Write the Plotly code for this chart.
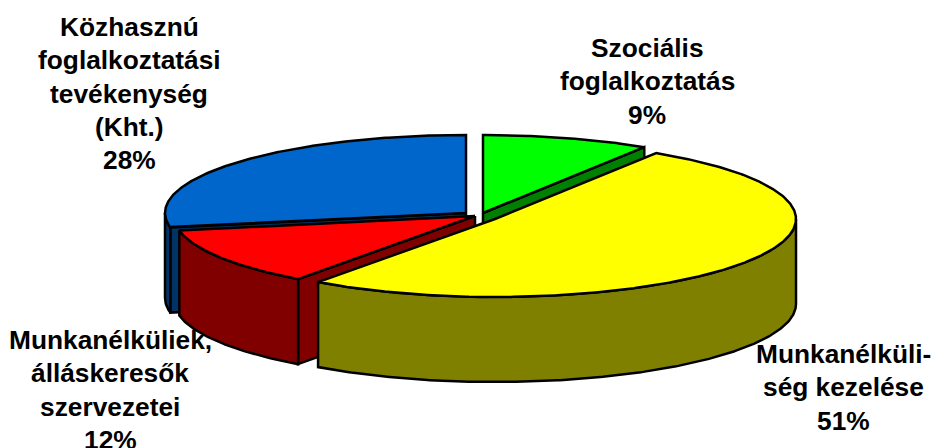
import numpy as np
import plotly.graph_objects as go

# Data
categories = ["Szociális foglalkoztatás", "Munkanélküliség kezelése",
              "Munkanélküliek, álláskeresők szervezetei",
              "Közhasznú foglalkoztatási tevékenység (Kht.)"]
values = [9, 51, 12, 28]
label_lines = [
    ["Szociális", "foglalkoztatás", "9%"],
    ["Munkanélküli-", "ség kezelése", "51%"],
    ["Munkanélküliek,", "álláskeresők", "szervezetei", "12%"],
    ["Közhasznú", "foglalkoztatási", "tevékenység", "(Kht.)", "28%"],
]

# Styling / projection of the tilted pie
top_colors = ["#00FF00", "#FFFF00", "#FF0000", "#0066CC"]
side_colors = ["#008000", "#808000", "#800000", "#003366"]
centers = [(483, 213), (495, 219), (475, 216), (466, 213)]
RX, RY, DEPTH = 301, 78, 85
label_pos = [(647, 48), (843, 354), (110, 340), (129, 27)]
LINE_H = 33.3


def rim(c, a0, a1, dy=0.0):
    t = np.radians(np.linspace(a0, a1, max(2, int(abs(a1 - a0) * 2) + 1)))
    return c[0] + RX * np.sin(t), c[1] - RY * np.cos(t) + dy


def poly(fig, xs, ys, color):
    fig.add_trace(go.Scatter(
        x=list(xs) + [xs[0]], y=list(ys) + [ys[0]], mode="lines", fill="toself",
        fillcolor=color, line=dict(color="black", width=2.5),
        hoverinfo="skip", showlegend=False))


fig = go.Figure()
edges = np.concatenate([[0], np.cumsum(values)]) * 3.6
# which straight edge of each wedge faces the viewer
front_cut = {0: 1, 2: 0, 3: 0}
# back-to-front painting order: blue, green, red, yellow
for i in [3, 0, 2, 1]:
    c = centers[i]
    a0, a1 = edges[i], edges[i + 1]
    if i in front_cut:
        cut = edges[i + front_cut[i]]
        ex, ey = rim(c, cut, cut)
        ex, ey = ex[0], ey[0]
        poly(fig, [c[0], ex, ex, c[0]], [c[1], ey, ey + DEPTH, c[1] + DEPTH], side_colors[i])
    # outer wall, visible for the front half of the ellipse
    w0, w1 = max(a0, 90), min(a1, 270)
    if w1 > w0:
        x1, y1 = rim(c, w0, w1)
        x2, y2 = rim(c, w1, w0, DEPTH)
        poly(fig, np.r_[x1, x2], np.r_[y1, y2], side_colors[i])
    # top face
    x, y = rim(c, a0, a1)
    poly(fig, np.r_[c[0], x], np.r_[c[1], y], top_colors[i])

for lines, (lx, ly) in zip(label_lines, label_pos):
    for k, line in enumerate(lines):
        fig.add_annotation(x=lx, y=ly + k * LINE_H, text=f"<b>{line}</b>", showarrow=False,
                           xanchor="center", yanchor="middle",
                           font=dict(family="Liberation Sans", size=26.3, color="black"))

fig.update_layout(
    width=931, height=448, autosize=False, margin=dict(l=0, r=0, t=0, b=0),
    paper_bgcolor="white", plot_bgcolor="white", showlegend=False,
    xaxis=dict(range=[0, 931], visible=False, fixedrange=True),
    yaxis=dict(range=[448, 0], visible=False, fixedrange=True),
)
fig.write_html("out.html", config={"displayModeBar": False},
               post_script="document.body.style.margin='0';document.body.style.overflow='hidden';")
